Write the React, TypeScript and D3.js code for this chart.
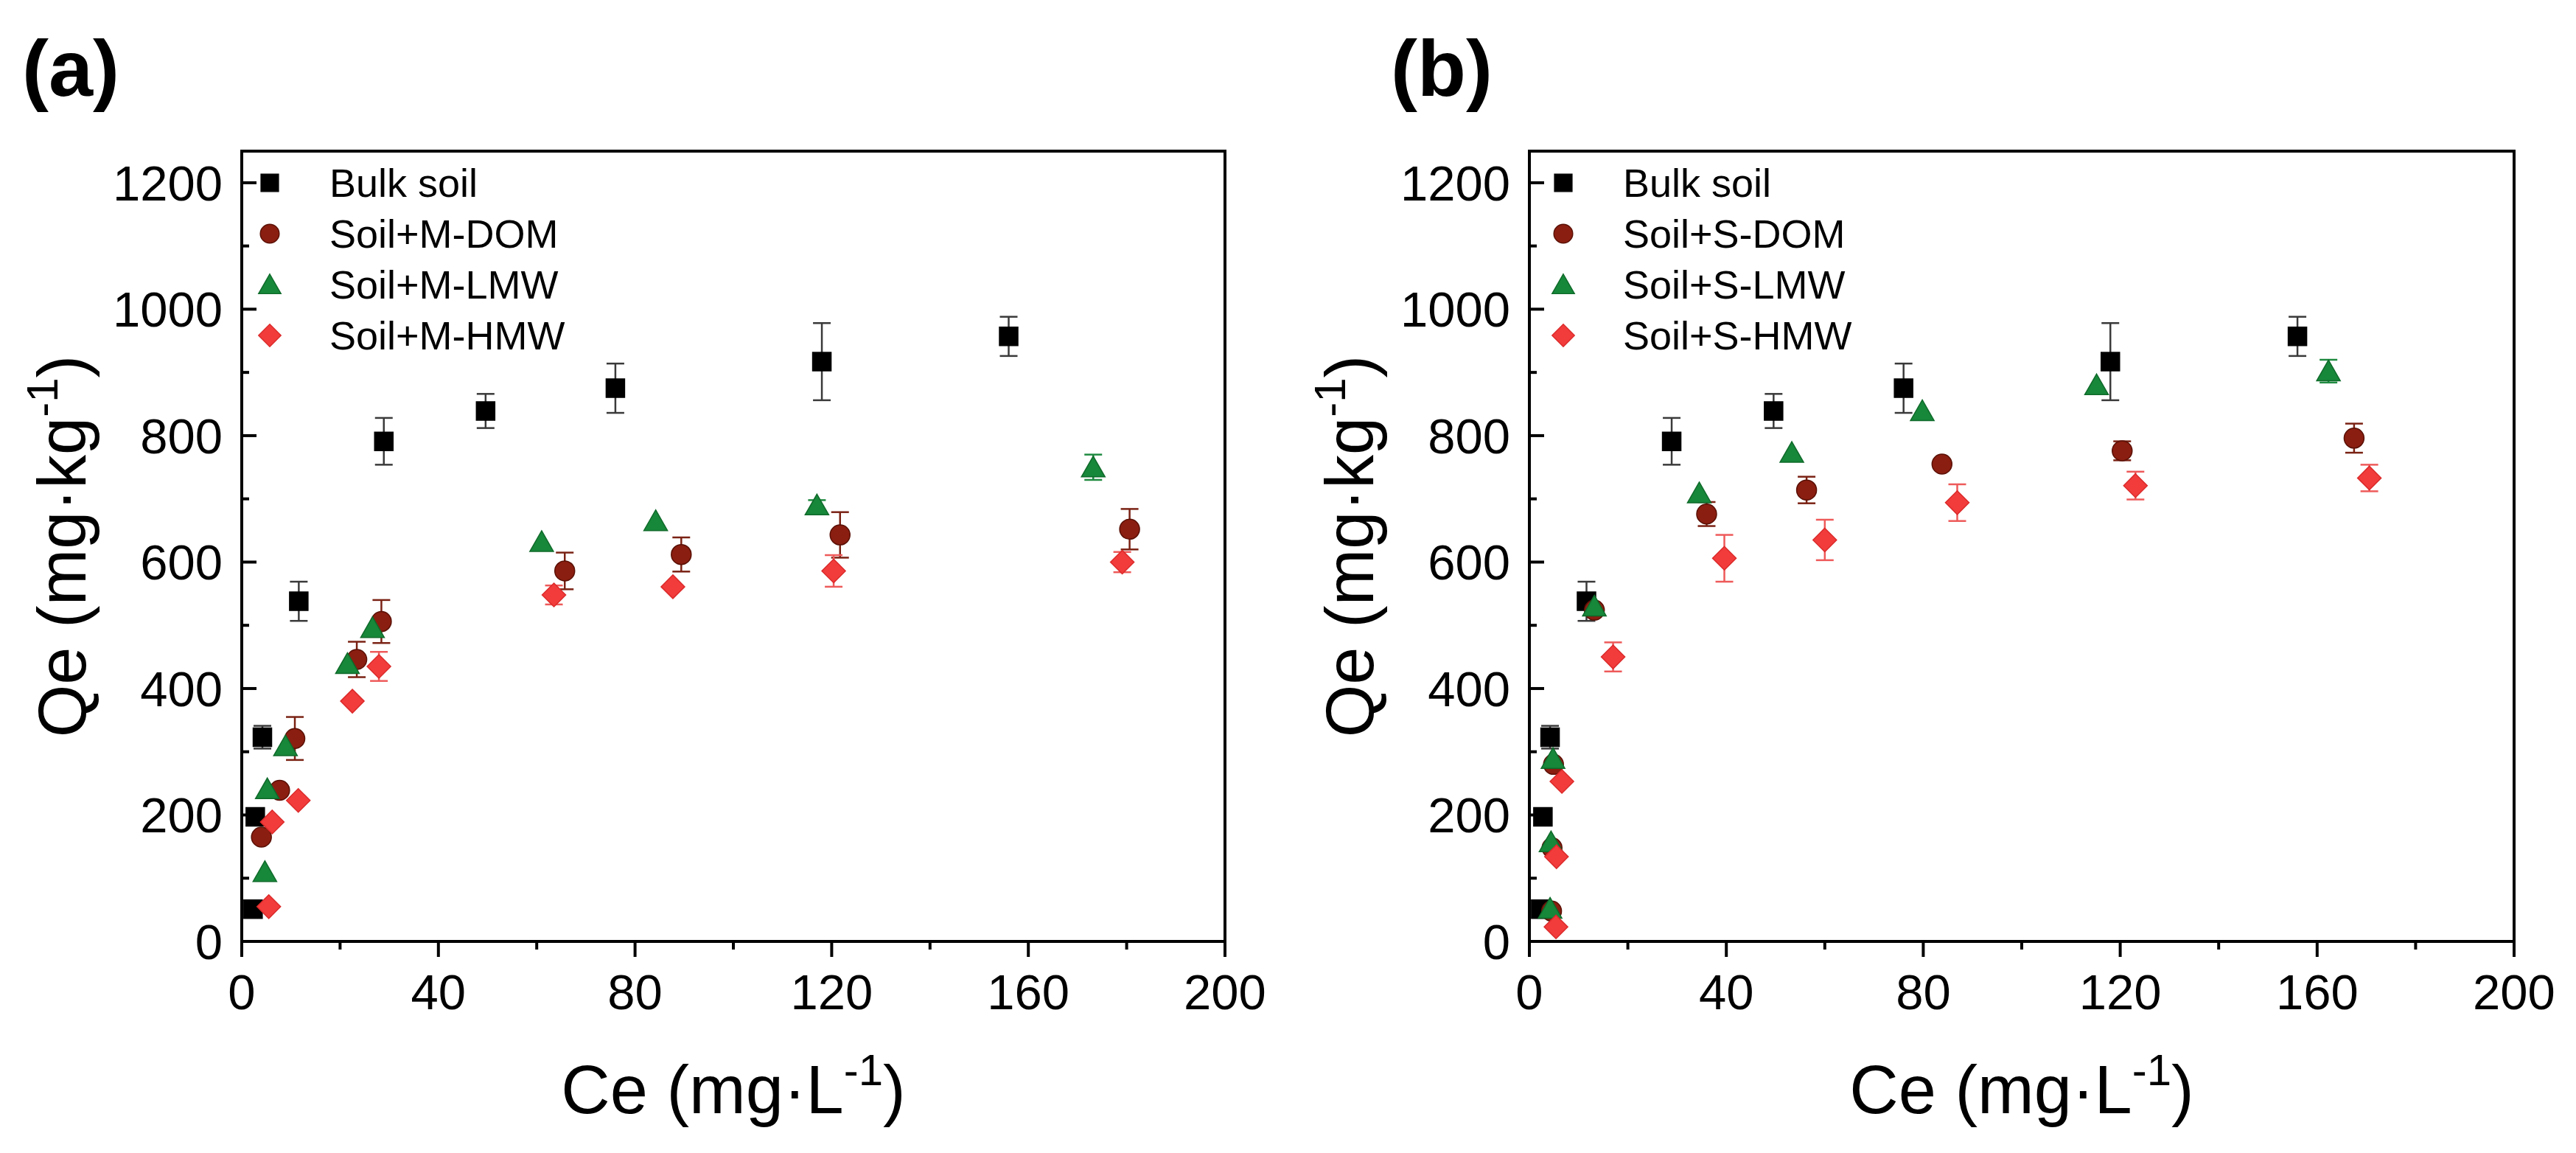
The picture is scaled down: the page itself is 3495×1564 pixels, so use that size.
import React from 'react';
import * as d3 from 'd3';

const W = 3495;
const H = 1564;

// Bulk soil is the same in both panels
const ceBulk = [2.3, 2.75, 4.2, 11.6, 28.9, 49.6, 76.0, 118, 156];
const qeBulk = [51, 197, 323, 538, 791, 839, 875, 917, 957];
const sdBulk = [0, 0, 18, 31, 37, 27, 39, 61, 31];

// Panel (a): manure-derived DOM fractions
const ceMDom = [4.0, 7.7, 10.8, 23.4, 28.4, 65.7, 89.4, 121.7, 180.6];
const qeMDom = [165, 239, 321, 446, 506, 586, 612, 643, 652];
const sdMDom = [0, 0, 34, 28, 34, 29, 27, 36, 32];

const ceMLmw = [4.7, 5.2, 8.9, 21.5, 26.6, 61.0, 84.2, 117.0, 173.2];
const qeMLmw = [110, 241, 309, 439, 496, 632, 665, 690, 750];
const sdMLmw = [0, 0, 0, 0, 0, 0, 0, 8, 20];

const ceMHmw = [5.5, 6.2, 11.5, 22.5, 27.9, 63.5, 87.7, 120.4, 179.1];
const qeMHmw = [55, 189, 223, 380, 435, 548, 561, 586, 600];
const sdMHmw = [0, 0, 0, 0, 23, 15, 0, 25, 16];

// Panel (b): straw-derived DOM fractions
const ceSDom = [4.5, 4.6, 4.9, 13.2, 36.0, 56.3, 83.8, 120.4, 167.5];
const qeSDom = [48, 148, 280, 524, 676, 714, 755, 776, 796];
const sdSDom = [0, 0, 0, 0, 19, 21, 0, 15, 23];

const ceSLmw = [4.2, 4.4, 4.8, 13.2, 34.5, 53.3, 79.8, 115.2, 162.3];
const qeSLmw = [52, 157, 289, 530, 709, 773, 839, 880, 902];
const sdSLmw = [0, 0, 0, 0, 0, 0, 0, 0, 18];

const ceSHmw = [5.4, 5.5, 6.6, 17.0, 39.6, 60.0, 86.9, 123.1, 170.6];
const qeSHmw = [23, 134, 253, 450, 606, 635, 694, 721, 733];
const sdSHmw = [0, 0, 0, 23, 37, 32, 29, 22, 21];

const xTicks = [0, 40, 80, 120, 160, 200];
const yTicks = [0, 200, 400, 600, 800, 1000, 1200];

type Shape = 'square' | 'circle' | 'triangle' | 'diamond';

interface Series {
  name: string;
  ce: number[];
  qe: number[];
  sd: number[];
  shape: Shape;
  fill: string;
  stroke: string;
  bar: string;
}

const STYLE: Record<Shape, { fill: string; stroke: string; bar: string }> = {
  square: { fill: '#000000', stroke: '#000000', bar: '#3a3a3a' },
  circle: { fill: '#8a1e10', stroke: '#5a1006', bar: '#7a2214' },
  triangle: { fill: '#17873a', stroke: '#0f6a2a', bar: '#1f8a40' },
  diamond: { fill: '#f23c3c', stroke: '#dc2a2a', bar: '#ee5a5a' },
};

const mk = (name: string, ce: number[], qe: number[], sd: number[], shape: Shape): Series => ({
  name, ce, qe, sd, shape, ...STYLE[shape],
});

const seriesA: Series[] = [
  mk('Bulk soil', ceBulk, qeBulk, sdBulk, 'square'),
  mk('Soil+M-DOM', ceMDom, qeMDom, sdMDom, 'circle'),
  mk('Soil+M-LMW', ceMLmw, qeMLmw, sdMLmw, 'triangle'),
  mk('Soil+M-HMW', ceMHmw, qeMHmw, sdMHmw, 'diamond'),
];

const seriesB: Series[] = [
  mk('Bulk soil', ceBulk, qeBulk, sdBulk, 'square'),
  mk('Soil+S-DOM', ceSDom, qeSDom, sdSDom, 'circle'),
  mk('Soil+S-LMW', ceSLmw, qeSLmw, sdSLmw, 'triangle'),
  mk('Soil+S-HMW', ceSHmw, qeSHmw, sdSHmw, 'diamond'),
];

const FONT = '"Liberation Sans", Arial, Helvetica, sans-serif';

function markerPath(shape: Shape): string {
  if (shape === 'square') return 'M-12.5,-12.5H12.5V12.5H-12.5Z';
  if (shape === 'triangle') return 'M0,-15L16,13L-16,13Z';
  if (shape === 'diamond') return 'M0,-16L16,0L0,16L-16,0Z';
  const p = d3.path();
  p.arc(0, 0, 13.5, 0, 2 * Math.PI);
  p.closePath();
  return p.toString();
}

interface PanelCfg {
  left: number;
  right: number;
  top: number;
  bottom: number;
  tag: string;
  tagX: number;
  legSym: number;
  legText: number;
}

function Panel({ cfg, series }: { cfg: PanelCfg; series: Series[] }) {
  const x = d3.scaleLinear().domain([0, 200]).range([cfg.left, cfg.right]);
  const y = d3.scaleLinear().domain([0, 1250]).range([cfg.bottom, cfg.top]);
  const xMinor = d3.range(20, 200, 40);
  const yMinor = d3.range(100, 1250, 200);
  const midY = (cfg.top + cfg.bottom) / 2;
  const midX = (cfg.left + cfg.right) / 2;
  const axisW = 4;

  return (
    <g>
      <text x={cfg.tagX} y={130} fontFamily={FONT} fontWeight="bold" fontSize={108} fill="#000">
        {cfg.tag}
      </text>

      {/* data: error bars under markers, later series on top */}
      {series.map((s, si) => (
        <g key={si}>
          {s.ce.map((c, i) =>
            s.sd[i] > 0 ? (
              <g key={i} stroke={s.bar} strokeWidth={2.5}>
                <line x1={x(c)} x2={x(c)} y1={y(s.qe[i] - s.sd[i])} y2={y(s.qe[i] + s.sd[i])} />
                <line x1={x(c) - 12} x2={x(c) + 12} y1={y(s.qe[i] - s.sd[i])} y2={y(s.qe[i] - s.sd[i])} />
                <line x1={x(c) - 12} x2={x(c) + 12} y1={y(s.qe[i] + s.sd[i])} y2={y(s.qe[i] + s.sd[i])} />
              </g>
            ) : null
          )}
          {s.ce.map((c, i) => (
            <path
              key={'m' + i}
              d={markerPath(s.shape)}
              transform={`translate(${x(c)},${y(s.qe[i])})`}
              fill={s.fill}
              stroke={s.stroke}
              strokeWidth={1.5}
            />
          ))}
        </g>
      ))}

      {/* frame */}
      <rect
        x={cfg.left}
        y={cfg.top}
        width={cfg.right - cfg.left}
        height={cfg.bottom - cfg.top}
        fill="none"
        stroke="#000"
        strokeWidth={axisW}
      />

      {/* y axis: ticks point inward */}
      {yTicks.map((t) => (
        <g key={'yt' + t}>
          <line x1={cfg.left} x2={cfg.left + 20} y1={y(t)} y2={y(t)} stroke="#000" strokeWidth={axisW} />
          <text
            x={cfg.left - 26}
            y={y(t) + 24}
            textAnchor="end"
            fontFamily={FONT}
            fontSize={67}
            fill="#000"
          >
            {t}
          </text>
        </g>
      ))}
      {yMinor.map((t) => (
        <line key={'ym' + t} x1={cfg.left} x2={cfg.left + 10} y1={y(t)} y2={y(t)} stroke="#000" strokeWidth={axisW} />
      ))}

      {/* x axis: ticks point outward */}
      {xTicks.map((t) => (
        <g key={'xt' + t}>
          <line x1={x(t)} x2={x(t)} y1={cfg.bottom} y2={cfg.bottom + 21} stroke="#000" strokeWidth={axisW} />
          <text x={x(t)} y={1369} textAnchor="middle" fontFamily={FONT} fontSize={67} fill="#000">
            {t}
          </text>
        </g>
      ))}
      {xMinor.map((t) => (
        <line key={'xm' + t} x1={x(t)} x2={x(t)} y1={cfg.bottom} y2={cfg.bottom + 11} stroke="#000" strokeWidth={axisW} />
      ))}

      {/* axis titles */}
      <text x={midX} y={1510} textAnchor="middle" fontFamily={FONT} fontSize={92} fill="#000">
        Ce (mg·L
        <tspan fontSize={60} dy={-38}>-1</tspan>
        <tspan dy={38}>)</tspan>
      </text>
      <text
        transform={`translate(${cfg.left - 212},${midY}) rotate(-90)`}
        textAnchor="middle"
        fontFamily={FONT}
        fontSize={92}
        fill="#000"
      >
        Qe (mg·kg
        <tspan fontSize={60} dy={-38}>-1</tspan>
        <tspan dy={38}>)</tspan>
      </text>

      {/* legend */}
      {series.map((s, i) => {
        const ly = cfg.top + 43 + i * 69;
        return (
          <g key={'lg' + i}>
            <path
              d={markerPath(s.shape)}
              transform={`translate(${cfg.left + cfg.legSym},${ly}) scale(0.95)`}
              fill={s.fill}
              stroke={s.stroke}
              strokeWidth={1.5}
            />
            <text x={cfg.left + cfg.legText} y={ly + 19} fontFamily={FONT} fontSize={54} fill="#000">
              {s.name}
            </text>
          </g>
        );
      })}
    </g>
  );
}

const panelA: PanelCfg = {
  left: 328, right: 1662, top: 205, bottom: 1277,
  tag: '(a)', tagX: 30, legSym: 38, legText: 119,
};

const panelB: PanelCfg = {
  left: 2075, right: 3411, top: 205, bottom: 1277,
  tag: '(b)', tagX: 1887, legSym: 46, legText: 127,
};

export default function App() {
  return (
    <svg
      width={W}
      height={H}
      viewBox={`0 0 ${W} ${H}`}
      style={{ position: 'absolute', left: 0, top: 0, background: '#fff' }}
    >
      <rect width={W} height={H} fill="#fff" />
      <Panel cfg={panelA} series={seriesA} />
      <Panel cfg={panelB} series={seriesB} />
    </svg>
  );
}
